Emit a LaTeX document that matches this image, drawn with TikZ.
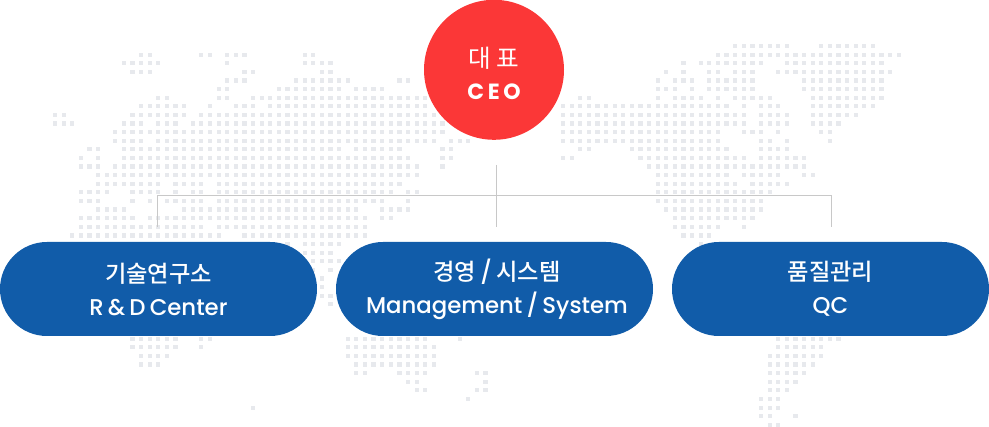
\documentclass[tikz,border=0pt]{standalone}
\usepackage{fontspec}
\usetikzlibrary{shapes.misc}
\setmainfont{Poppins Medium}[BoldFont={Poppins Bold},WordSpace=0.7]
\newfontfamily\krfont{Noto Sans CJK KR Medium}[Scale=1.02]
\newfontfamily\krtitle{Noto Sans CJK KR}[Scale=1.12]
\definecolor{ceored}{HTML}{FB3737}
\definecolor{pillblue}{HTML}{115CA9}
\definecolor{dotgray}{HTML}{E7E9ED}
\definecolor{linegray}{HTML}{C8C8C8}
\tikzset{
    pill/.style={rounded rectangle, fill=pillblue, text=white, minimum width=317pt, minimum height=94pt, inner sep=0pt, align=center, font=\fontsize{22.8}{33}\selectfont},
    ceo/.style={circle, fill=ceored, text=white, minimum size=140pt, inner sep=0pt, align=center, font=\fontsize{22}{36}\selectfont},
    linkline/.style={draw=linegray, line width=1pt},
    mapdot/.style={fill=dotgray}
}
\begin{document}
\begin{tikzpicture}[x=1pt,y=-1pt]
    \useasboundingbox (0,0) rectangle (989,427);
    % world map, row / column spans
    \foreach \r/\spans in {
        0/{85/91,95/101},
        1/{16/17,23/24,26/28,35/36,83/104},
        2/{14/18,26/26,35/38,79/79,81/88,91/102},
        3/{15/17,28/29,37/38,77/77,79/79,82/83,85/87,90/103},
        4/{26/28,34/40,46/47,76/76,78/80,82/87,93/102},
        5/{25/26,32/39,41/44,76/78,80/80,82/87,93/102},
        6/{18/19,25/26,29/49,67/68,76/76,78/81,83/83,85/89,94/102},
        7/{16/21,24/24,27/29,31/49,65/84,86/86,88/90,94/101},
        8/{6/7,15/21,23/50,65/86,88/91,94/99},
        9/{6/8,14/16,18/20,22/51,65/86,88/91,94/97},
        10/{13/51,65/83,86/88,90/90,95/96},
        11/{13/16,18/50,52/54,65/83,88/89,91/91,96/96},
        12/{10/11,14/39,41/46,51/52,67/68,73/84,88/91},
        13/{9/9,11/11,14/47,51/52,65/66,74/86,88/93},
        14/{9/11,13/48,51/51,75/93},
        15/{11/48,76/84,86/90,93/94},
        16/{11/18,20/23,25/46,76/85,87/91},
        17/{9/12,15/18,20/20,22/23,25/45,47/48,76/89},
        18/{9/11,15/15,17/17,19/23,25/44,47/47,76/88},
        19/{11/14,21/41,44/47,77/88},
        20/{9/15,17/42,44/45,78/87},
        21/{9/23,25/42,78/83,86/86},
        22/{8/25,28/42,79/82},
        23/{33/33,35/39,81/81},
        24/{35/38},
        25/{36/39},
        26/{36/36,38/38},
        27/{37/37},
        28/{37/37},
        29/{37/38},
        30/{38/38},
        34/{15/20,23/24,40/49,53/53,90/97},
        35/{15/20,23/23,40/50,90/95},
        36/{16/19,40/50,89/95},
        37/{16/18,41/50,89/94},
        38/{41/42,46/49,55/56,89/93},
        39/{47/48,56/56,89/92},
        40/{48/49,55/56,89/91},
        41/{54/54,88/90},
        42/{29/29,88/90},
        43/{88/89,92/92},
        44/{89/90}}
        \foreach \a/\b in \spans
            \foreach \k in {\a,...,\b}
                \fill[mapdot] ({1.25+8.61*\k},{43.9+8.61*\r}) rectangle ++(4.2,4.2);

    \coordinate (trunktop) at (496.5,165);
    \coordinate (trunkbot) at (496.5,227);
    \coordinate (barleft) at (157.7,195.3);
    \coordinate (barright) at (831.7,195.3);
    \coordinate (dropleft) at (157.7,227);
    \coordinate (dropright) at (831.7,227);
    \draw[linkline] (trunktop) -- (trunkbot);
    \draw[linkline] (dropleft) -- (barleft) -- (barright) -- (dropright);

    \node[ceo] (ceo) at (494,69.8) {\rule{0pt}{27pt}{\krtitle 대 표}\\[-4pt]\textbf{C\,E\,O}};
    \node[pill] (rnd) at (158.5,289) {{\krfont 기술연구소}\\R \& D Center};
    \node[pill] (mgmt) at (494.5,289) {\hspace*{5pt}{\krfont 경영} / {\krfont 시스템}\\\hspace*{5pt}Management / System};
    \node[pill] (qc) at (830.5,289) {{\krfont 품질관리}\\QC};
\end{tikzpicture}
\end{document}
